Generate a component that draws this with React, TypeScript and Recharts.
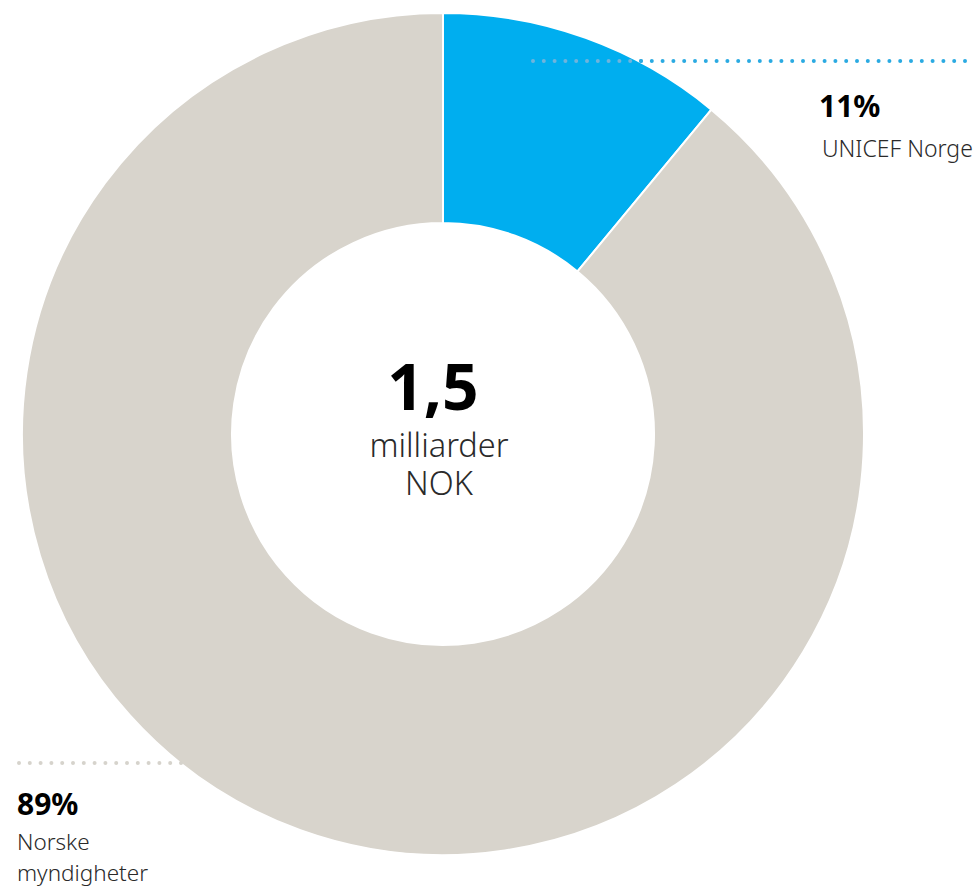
import { PieChart, Pie, Cell } from "recharts";

const names = ["UNICEF Norge", "Norske myndigheter"];
const shares = [11, 89];
const colors = ["#00AEEF", "#D8D4CC"];
const total = "1,5";
const unitLines = ["milliarder", "NOK"];

const data = names.map((name, i) => ({ name, value: shares[i] }));

const FONT = "'Noto Sans', 'Open Sans', sans-serif";

const App = () => {
  return (
    <div style={{ position: "absolute", left: 0, top: 0, width: 980, height: 888, background: "#fff" }}>
      <PieChart width={980} height={888} margin={{ top: 0, right: 0, bottom: 0, left: 0 }}>
        <Pie
          data={data}
          dataKey="value"
          cx={443}
          cy={434}
          startAngle={90}
          endAngle={-270}
          innerRadius={211}
          outerRadius={421}
          stroke="#fff"
          strokeWidth={2}
          isAnimationActive={false}
        >
          {data.map((d, i) => (
            <Cell key={d.name} fill={colors[i]} />
          ))}
        </Pie>
      </PieChart>

      {/* leader lines and labels */}
      <svg width={980} height={888} style={{ position: "absolute", left: 0, top: 0, fontFamily: FONT }}>
        <line x1={533} y1={61} x2={645} y2={61} stroke="#6fb4dc" strokeWidth={4} strokeLinecap="round" strokeDasharray="0 10.8" />
        <line x1={641} y1={61} x2={975} y2={61} stroke="#2aaae2" strokeWidth={4} strokeLinecap="round" strokeDasharray="0 10.8" />
        <line x1={19} y1={763} x2={186} y2={763} stroke="#d6d3cc" strokeWidth={4} strokeLinecap="round" strokeDasharray="0 10.8" />

        <text x={819} y={117} fontSize={30} fontWeight={700} fill="#000">{shares[0]}%</text>
        <text x={822} y={157} fontSize={23} fontWeight={300} fill="#2a2a2a">{names[0]}</text>

        <text x={17} y={815} fontSize={30} fontWeight={700} fill="#000">{shares[1]}%</text>
        <text x={17} y={850} fontSize={22.5} fontWeight={300} fill="#2a2a2a">Norske</text>
        <text x={17} y={881} fontSize={22.5} fontWeight={300} fill="#2a2a2a">myndigheter</text>

        <text x={433} y={410} textAnchor="middle" fontSize={64} fontWeight={700} fill="#000">{total}</text>
        <text x={439} y={457} textAnchor="middle" fontSize={32.5} fontWeight={300} fill="#2a2a2a">{unitLines[0]}</text>
        <text x={439} y={495} textAnchor="middle" fontSize={32.5} fontWeight={300} fill="#2a2a2a">{unitLines[1]}</text>
      </svg>
    </div>
  );
};

export default App;
